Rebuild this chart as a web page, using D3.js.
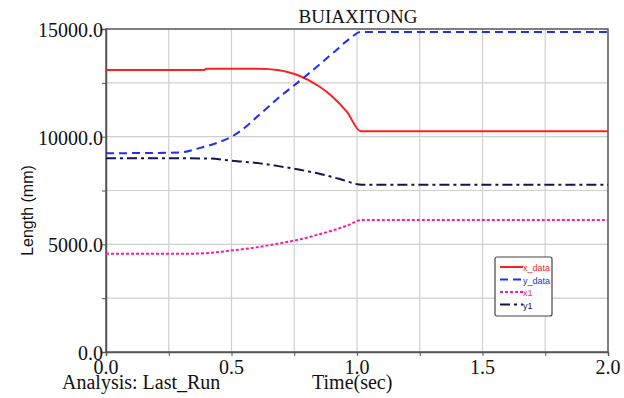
<!DOCTYPE html>
<html>
<head>
<meta charset="utf-8">
<script src="https://cdn.jsdelivr.net/npm/d3@7"></script>
<style>
  body { margin: 0; background: #fff; }
  svg { display: block; }
</style>
</head>
<body>
<svg id="chart" width="624" height="398"></svg>
<script>
// values
let xDataT = [0, 0.39, 0.40, 0.61, 0.69, 0.73, 0.77, 0.85, 0.90, 0.96, 1.015, 2.0];
let xDataV = [13100, 13100, 13150, 13150, 13080, 12980, 12830, 12330, 11880, 11150, 10250, 10250];

let yDataT = [0, 0.29, 0.375, 0.454, 0.5, 0.534, 0.614, 0.693, 0.773, 0.825, 0.904, 0.972, 1.015, 2.0];
let yDataV = [9230, 9260, 9480, 9760, 10000, 10250, 11050, 11855, 12600, 13100, 13880, 14560, 14860, 14860];

let x1T = [0, 0.30, 0.40, 0.494, 0.60, 0.693, 0.773, 0.853, 0.904, 0.96, 1.02, 2.0];
let x1V = [4560, 4560, 4590, 4705, 4860, 5050, 5230, 5480, 5650, 5870, 6130, 6130];

let y1T = [0, 0.40, 0.494, 0.614, 0.693, 0.773, 0.853, 0.932, 1.02, 2.0];
let y1V = [9000, 8990, 8890, 8760, 8620, 8460, 8270, 8030, 7770, 7770];

let xTicks = [0, 0.5, 1.0, 1.5, 2.0];
let yTicks = [0, 5000, 10000, 15000];
let seriesNames = ["x_data", "y_data", "x1", "y1"];

let series = [
    { t: xDataT, v: xDataV, color: "#ff1f1f", dash: null },
    { t: yDataT, v: yDataV, color: "#1f2ff5", dash: "8,5" },
    { t: x1T, v: x1V, color: "#ff1aa3", dash: "3,2" },
    { t: y1T, v: y1V, color: "#14144f", dash: "10,4,3,4" }
];

let svg = d3.select("#chart");
let margin = { top: 29, right: 16, bottom: 46, left: 106 };
let width = 624 - margin.left - margin.right;
let height = 398 - margin.top - margin.bottom;

let g = svg.append("g").attr("transform", "translate(" + margin.left + "," + margin.top + ")");

let x = d3.scaleLinear().domain([0, 2]).range([0, width]);
let y = d3.scaleLinear().domain([0, 15000]).range([height, 0]);

// grid every 0.25 s and 2500 mm
let gridX = d3.range(0.25, 2, 0.25);
let gridY = d3.range(2500, 15000, 2500);

g.append("g").selectAll("line")
    .data(gridX)
    .enter().append("line")
    .attr("x1", d => x(d)).attr("x2", d => x(d))
    .attr("y1", 0).attr("y2", height)
    .attr("stroke", "#cfcfcf").attr("stroke-width", 1.2);

g.append("g").selectAll("line")
    .data(gridY)
    .enter().append("line")
    .attr("x1", 0).attr("x2", width)
    .attr("y1", d => y(d)).attr("y2", d => y(d))
    .attr("stroke", "#cfcfcf").attr("stroke-width", 1.2);

// frame
g.append("rect")
    .attr("x", 0).attr("y", 0)
    .attr("width", width).attr("height", height)
    .attr("fill", "none")
    .attr("stroke", "#555")
    .attr("stroke-width", 1.5);

// axes
let xAxis = d3.axisBottom(x).tickValues(d3.range(0, 2.01, 0.25)).tickSize(4).tickFormat("");
let yAxis = d3.axisLeft(y).tickValues(d3.range(0, 15001, 2500)).tickSize(4).tickFormat("");

let gx = g.append("g").attr("transform", "translate(0," + height + ")").call(xAxis);
let gy = g.append("g").call(yAxis);
[gx, gy].forEach(a => {
    a.select(".domain").attr("stroke", "#555").attr("stroke-width", 1.5);
    a.selectAll(".tick line").attr("stroke", "#555");
});

let serif = "'Liberation Serif', 'Times New Roman', serif";
let sans = "'Liberation Sans', Arial, sans-serif";

g.append("g").selectAll("text")
    .data(xTicks)
    .enter().append("text")
    .attr("x", d => x(d))
    .attr("y", height + 22)
    .attr("text-anchor", "middle")
    .attr("font-family", serif)
    .attr("font-size", 20)
    .attr("fill", "#111")
    .text(d => d.toFixed(1));

g.append("g").selectAll("text")
    .data(yTicks)
    .enter().append("text")
    .attr("x", -3)
    .attr("y", d => y(d) + 8)
    .attr("text-anchor", "end")
    .attr("font-family", serif)
    .attr("font-size", 20)
    .attr("fill", "#111")
    .text(d => d.toFixed(1));

// lines
let line = d3.line()
    .x(d => x(d[0]))
    .y(d => y(d[1]))
    .curve(d3.curveMonotoneX);

series.forEach(s => {
    let pts = s.t.map((t, i) => [t, s.v[i]]);
    g.append("path")
        .datum(pts)
        .attr("fill", "none")
        .attr("stroke", s.color)
        .attr("stroke-width", 2)
        .attr("stroke-dasharray", s.dash)
        .attr("d", line);
});

// titles
svg.append("text")
    .attr("x", 358).attr("y", 23)
    .attr("text-anchor", "middle")
    .attr("font-family", serif)
    .attr("font-size", 19)
    .attr("fill", "#111")
    .text("BUIAXITONG");

svg.append("text")
    .attr("transform", "translate(33," + (margin.top + height / 2 + 20) + ") rotate(-90)")
    .attr("text-anchor", "middle")
    .attr("font-family", sans)
    .attr("font-size", 16)
    .attr("fill", "#111")
    .text("Length (mm)");

svg.append("text")
    .attr("x", 62).attr("y", 389)
    .attr("font-family", serif)
    .attr("font-size", 20)
    .attr("fill", "#111")
    .text("Analysis: Last_Run");

svg.append("text")
    .attr("x", 312).attr("y", 389)
    .attr("font-family", serif)
    .attr("font-size", 20)
    .attr("fill", "#111")
    .text("Time(sec)");

// legend
let leg = svg.append("g").attr("transform", "translate(495,257)");
leg.append("rect")
    .attr("width", 57).attr("height", 59)
    .attr("rx", 2)
    .attr("fill", "#fff")
    .attr("stroke", "#444")
    .attr("stroke-width", 1.2);

let legItems = leg.selectAll("g.item")
    .data(series)
    .enter().append("g")
    .attr("class", "item")
    .attr("transform", (d, i) => "translate(0," + (10 + i * 12.5) + ")");

legItems.append("line")
    .attr("x1", 5).attr("x2", 28)
    .attr("stroke", d => d.color)
    .attr("stroke-width", 2)
    .attr("stroke-dasharray", d => d.dash);

legItems.append("text")
    .attr("x", 28).attr("y", 4)
    .attr("font-family", sans)
    .attr("font-size", 9)
    .attr("fill", d => d.color)
    .text((d, i) => seriesNames[i]);
</script>
</body>
</html>
